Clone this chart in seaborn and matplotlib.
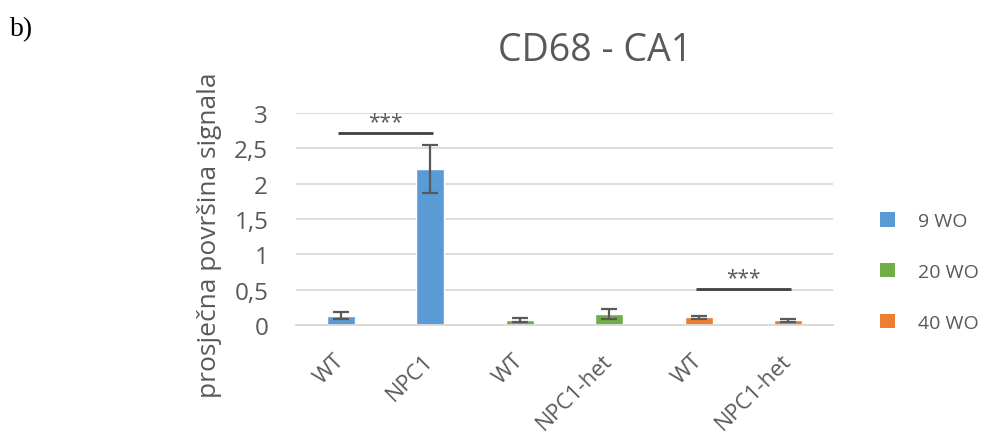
import matplotlib
matplotlib.use("Agg")
import matplotlib.pyplot as plt
import seaborn as sns
import pandas as pd
from matplotlib.patches import Patch

# Groups along the x axis, in drawing order
groups = ["WT", "NPC1", "WT", "NPC1-het", "WT", "NPC1-het"]
ages = ["9 WO", "9 WO", "20 WO", "20 WO", "40 WO", "40 WO"]
means = [0.13, 2.21, 0.07, 0.155, 0.11, 0.065]
errors = [0.05, 0.34, 0.03, 0.07, 0.02, 0.02]

series = ["9 WO", "20 WO", "40 WO"]
colors = ["#5B9BD5", "#70AD47", "#ED7D31"]

# Significance brackets: (first bar, last bar, height)
sig_pairs = [(0, 1, 2.72), (4, 5, 0.51)]
sig_text = "***"

text_col = "#595959"
font = ["Open Sans", "DejaVu Sans"]

sns.set_theme(style="white")
plt.rcParams["font.family"] = font

df = pd.DataFrame({
    "key": [f"{i}:{g}" for i, g in enumerate(groups)],
    "group": groups,
    "age": ages,
    "mean": means,
})

fig = plt.figure(figsize=(9.94, 4.39), dpi=100)
ax = fig.add_axes([0.2978, 0.2574, 0.5402, 0.4829])

sns.barplot(data=df, x="key", y="mean", hue="age", hue_order=series,
            palette=colors, dodge=False, width=0.31, errorbar=None,
            saturation=1, legend=False, ax=ax)

ax.errorbar(range(len(means)), means, yerr=errors, fmt="none",
            ecolor="#595959", elinewidth=1.6, capsize=5.5, capthick=1.6,
            zorder=4)

ax.set_ylim(0, 3)
ax.set_xlim(-0.5, len(groups) - 0.5)
ax.set_yticks([0, 0.5, 1, 1.5, 2, 2.5, 3])
ax.set_yticklabels(["0", "0,5", "1", "1,5", "2", "2,5", "3"],
                   fontsize=17.5, color=text_col)
ax.set_xticks(range(len(groups)))
ax.set_xticklabels(groups, rotation=45, ha="right", va="center",
                   rotation_mode="anchor", fontsize=16, color=text_col)
ax.tick_params(axis="x", length=0, pad=23)
ax.tick_params(axis="y", length=0, pad=20)

ax.yaxis.grid(True, color="#D9D9D9", linewidth=1.3)
ax.set_axisbelow(True)
for side in ["top", "right", "left"]:
    ax.spines[side].set_visible(False)
ax.spines["bottom"].set_color("#D9D9D9")
ax.spines["bottom"].set_linewidth(1.3)

ax.set_xlabel("")
ax.set_ylabel("prosječna površina signala", fontsize=19, color=text_col)
ax.yaxis.set_label_coords(-0.138, 0.43)

for a, b, h in sig_pairs:
    ax.plot([a - 0.03, b + 0.03], [h, h], color="#404040", linewidth=2,
            solid_capstyle="butt", clip_on=False)
    ax.text((a + b) / 2, h + 0.16, sig_text, ha="center", va="center",
            fontsize=15, color=text_col)

fig.text(0.599, 0.884, "CD68 - CA1", ha="center", va="center",
         fontsize=27, color=text_col)
fig.text(0.01, 0.932, "b)", ha="left", va="center", fontsize=20,
         family="Liberation Serif", color="black")

handles = [Patch(facecolor=c, edgecolor="none") for c in colors]
fig.legend(handles, series, loc="center left",
           bbox_to_anchor=(0.868, 0.378), frameon=False,
           handlelength=0.75, handleheight=0.75, handletextpad=1.2,
           labelspacing=1.68, fontsize=14, labelcolor=text_col)

fig.savefig("out.png", dpi=100)
